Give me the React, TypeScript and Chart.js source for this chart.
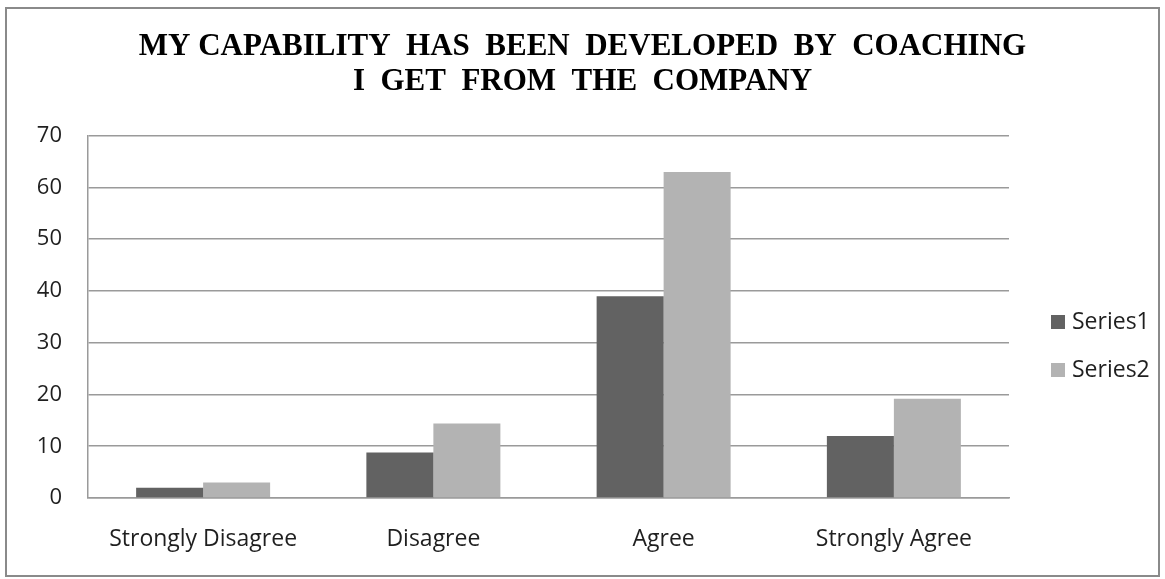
import { useEffect, useRef } from 'react';
import { Chart, registerables } from 'chart.js';

Chart.register(...registerables);

const titleLines = [
  'MY CAPABILITY  HAS  BEEN  DEVELOPED  BY  COACHING',
  'I  GET  FROM  THE  COMPANY',
];
const categories = ['Strongly Disagree', 'Disagree', 'Agree', 'Strongly Agree'];
const seriesNames = ['Series1', 'Series2'];
const series1 = [2, 8.8, 39, 12];
const series2 = [3, 14.4, 63, 19.2];
const yMin = 0;
const yMax = 70;
const yStep = 10;

const W = 1165;
const H = 579;

const decorPlugin = {
  id: 'decor',
  beforeDraw(chart: any) {
    const ctx = chart.ctx;
    ctx.save();
    ctx.fillStyle = '#ffffff';
    ctx.fillRect(0, 0, chart.width, chart.height);
    ctx.restore();
  },
  afterDraw(chart: any) {
    const ctx = chart.ctx;
    ctx.save();
    // outer frame
    ctx.strokeStyle = '#8a8a8a';
    ctx.lineWidth = 2;
    ctx.strokeRect(6, 8, 1153, 568);
    // title
    ctx.fillStyle = '#000000';
    ctx.font = 'bold 31px "Liberation Serif", "Times New Roman", serif';
    ctx.textAlign = 'center';
    ctx.textBaseline = 'middle';
    titleLines.forEach((line, i) => ctx.fillText(line, 582.5, 46.6 + i * 35));
    // legend
    const area = chart.chartArea;
    ctx.font = '23px "Open Sans", sans-serif';
    ctx.textAlign = 'left';
    chart.data.datasets.forEach((ds: any, i: number) => {
      const y = 322 + i * 48;
      ctx.fillStyle = ds.backgroundColor;
      ctx.fillRect(area.right + 42, y - 7, 14, 14);
      ctx.fillStyle = '#1f1f1f';
      ctx.fillText(ds.label, area.right + 63, y);
    });
    ctx.restore();
  },
};

export default function App() {
  const ref = useRef<HTMLCanvasElement>(null);

  useEffect(() => {
    if (!ref.current) return;
    const chart = new Chart(ref.current, {
      type: 'bar',
      data: {
        labels: categories,
        datasets: [
          { label: seriesNames[0], data: series1, backgroundColor: '#626262' },
          { label: seriesNames[1], data: series2, backgroundColor: '#b3b3b3' },
        ],
      },
      options: {
        responsive: false,
        animation: false,
        maintainAspectRatio: false,
        layout: { padding: { left: 0, right: 156, top: 135.7, bottom: 21 } },
        datasets: { bar: { categoryPercentage: 0.582, barPercentage: 1 } },
        plugins: {
          legend: { display: false },
          title: { display: false },
          tooltip: { enabled: false },
        },
        scales: {
          x: {
            grid: { display: false, drawTicks: false },
            border: { display: true, color: '#9a9a9a', width: 1.5 },
            ticks: {
              padding: 28,
              color: '#1f1f1f',
              font: { family: '"Open Sans", sans-serif', size: 23 },
            },
            afterFit: (s: any) => { s.height = 60; },
          },
          y: {
            min: yMin,
            max: yMax,
            grid: { color: '#9a9a9a', lineWidth: 1.5, drawTicks: false },
            border: { display: true, color: '#9a9a9a', width: 1.5 },
            ticks: {
              stepSize: yStep,
              padding: 26,
              color: '#1f1f1f',
              font: { family: '"Open Sans", sans-serif', size: 22 },
            },
            afterFit: (s: any) => { s.width = 88; },
          },
        },
      },
      plugins: [decorPlugin],
    });
    return () => chart.destroy();
  }, []);

  return (
    <div style={{ position: 'absolute', left: 0, top: 0, width: W, height: H }}>
      <canvas ref={ref} width={W} height={H} style={{ display: 'block' }} />
    </div>
  );
}
